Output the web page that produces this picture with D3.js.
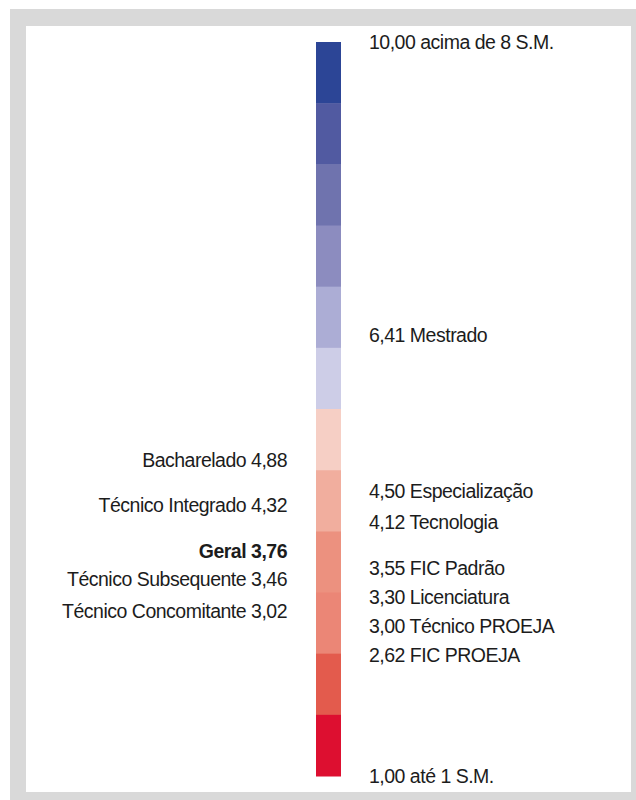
<!DOCTYPE html>
<html>
<head>
<meta charset="utf-8">
<script src="https://cdn.jsdelivr.net/npm/d3@7"></script>
<style>
  html, body { margin: 0; padding: 0; background: #ffffff; }
  svg { display: block; }
  text { font-family: "Liberation Sans", Arial, Helvetica, sans-serif; font-size: 19.5px; letter-spacing: -0.5px; fill: #1c1c1c; }
</style>
</head>
<body>
<div id="chart"></div>
<script>
// Colour steps of the scale bar, from the top (highest) to the bottom (lowest)
const barColors = [
  "#2c4596", "#515aa1", "#6f73ae", "#8c8cbf", "#acadd5", "#cdcde7",
  "#f6cfc5", "#f1ae9e", "#ec917f", "#eb8676", "#e35b4d", "#dd0f30"
];

// Right side: reference points and course types
const rightNames = ["acima de 8 S.M.", "Mestrado", "Especialização", "Tecnologia",
  "FIC Padrão", "Licenciatura", "Técnico PROEJA", "FIC PROEJA", "até 1 S.M."];
const rightValues = [10.00, 6.41, 4.50, 4.12, 3.55, 3.30, 3.00, 2.62, 1.00];

// Left side: course types and the overall figure
const leftNames = ["Bacharelado", "Técnico Integrado", "Geral", "Técnico Subsequente", "Técnico Concomitante"];
const leftValues = [4.88, 4.32, 3.76, 3.46, 3.02];
const leftBold = ["Geral"];

const scaleDomain = [1, 10];

const W = 636, H = 800;
const svg = d3.select("#chart").append("svg").attr("width", W).attr("height", H);

// Frame
svg.append("rect").attr("x", 10).attr("y", 9).attr("width", W).attr("height", H).attr("fill", "#d9d9d9");
svg.append("rect").attr("x", 26).attr("y", 26).attr("width", 605).attr("height", 766).attr("fill", "#ffffff");

const barTop = 42, barBottom = 776, barX = 316, barW = 25;
const y = d3.scaleLinear().domain(scaleDomain).range([barBottom, barTop]);
const band = d3.scaleBand().domain(d3.range(barColors.length)).range([barTop, barBottom]);

svg.append("g").selectAll("rect")
  .data(barColors)
  .join("rect")
  .attr("x", barX)
  .attr("y", (d, i) => band(i))
  .attr("width", barW)
  .attr("height", band.bandwidth() + 0.5)
  .attr("fill", d => d);

const fmt = v => d3.format(".2f")(v).replace(".", ",");

// Push labels downward so neighbours keep a minimum distance
function dodge(values, gap) {
  const order = d3.range(values.length).sort((a, b) => values[b] - values[a]);
  const pos = new Array(values.length);
  let last = -Infinity;
  order.forEach(i => {
    let p = y(values[i]);
    if (p < last + gap) p = last + gap;
    pos[i] = p;
    last = p;
  });
  return pos;
}

const gap = 29;
const rightPos = dodge(rightValues, gap);
const leftPos = dodge(leftValues, gap - 1);

svg.append("g").selectAll("text")
  .data(rightValues)
  .join("text")
  .attr("x", 369)
  .attr("y", (d, i) => rightPos[i])
  .attr("dy", "0.36em")
  .text((d, i) => fmt(d) + " " + rightNames[i]);

svg.append("g").selectAll("text")
  .data(leftValues)
  .join("text")
  .attr("x", 287)
  .attr("y", (d, i) => leftPos[i])
  .attr("dy", "0.36em")
  .attr("text-anchor", "end")
  .attr("font-weight", (d, i) => leftBold.includes(leftNames[i]) ? "bold" : null)
  .text((d, i) => leftNames[i] + " " + fmt(d));
</script>
</body>
</html>
